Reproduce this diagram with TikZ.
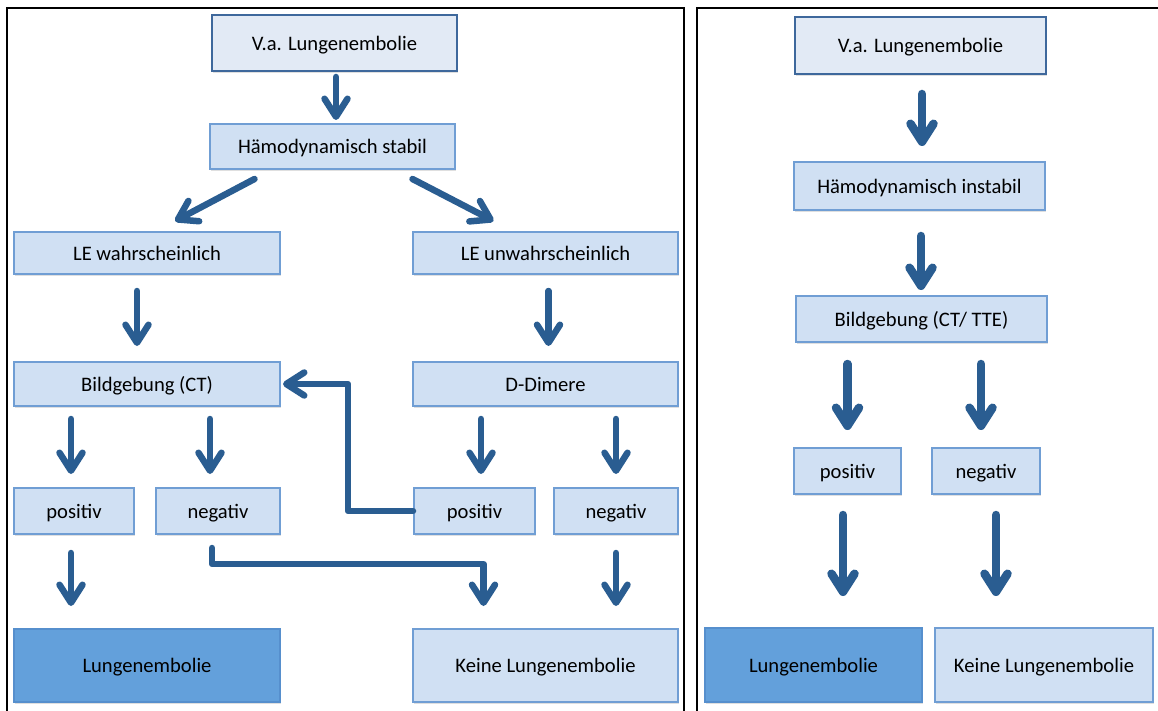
\documentclass[tikz,border=0pt]{standalone}
\usepackage{fontspec}
\setmainfont{Carlito}
\usetikzlibrary{arrows.meta,shadows}
\definecolor{boxfill}{RGB}{208,224,243}
\definecolor{boxline}{RGB}{112,158,212}
\definecolor{topfill}{RGB}{226,234,245}
\definecolor{topline}{RGB}{62,104,156}
\definecolor{lefill}{RGB}{99,160,219}
\definecolor{leline}{RGB}{86,143,205}
\definecolor{arrowblue}{RGB}{42,93,145}
\tikzstyle{box}=[draw=boxline,line width=2pt,fill=boxfill,inner sep=0pt,
  font=\fontsize{20.6}{24}\selectfont,text depth=0pt,
  drop shadow={shadow xshift=1pt,shadow yshift=-2pt,opacity=0.25}]
\tikzstyle{topbox}=[box,fill=topfill,draw=topline]
\tikzstyle{lebox}=[box,fill=lefill,draw=leline]
\tikzstyle{flow}=[draw=arrowblue,line width=6.5pt,line cap=round,line join=round,
  -{Straight Barb[length=18pt,width=23pt,round]}]
\tikzstyle{flowbig}=[flow,line width=8.5pt]
\tikzstyle{frame}=[draw=black,line width=2pt]

\begin{document}
\begin{tikzpicture}[x=1pt,y=-1pt]
\useasboundingbox (0,0) rectangle (1158,711);
\draw[frame] (7,711) |- (684,8) -- (684,711);
\draw[frame] (697,711) |- (1158,8);

% stabil
\node[topbox,minimum width=245pt,minimum height=56pt] (va1) at (334.5,43) {V.a. Lungenembolie};
\node[box,minimum width=245pt,minimum height=45pt] (stabil) at (332.5,146.5) {Hämodynamisch stabil};
\node[box,minimum width=266pt,minimum height=42pt] (lew) at (147,253) {LE wahrscheinlich};
\node[box,minimum width=265pt,minimum height=42pt] (leu) at (545.5,253) {LE unwahrscheinlich};
\node[box,minimum width=266pt,minimum height=44pt] (ct1) at (147,384) {Bildgebung (CT)};
\node[box,minimum width=265pt,minimum height=44pt] (dd) at (545.5,384) {D-Dimere};
\node[box,minimum width=120pt,minimum height=46pt] (pos1) at (74,511) {positiv};
\node[box,minimum width=124pt,minimum height=46pt] (neg1) at (218,511) {negativ};
\node[box,minimum width=121pt,minimum height=46pt] (pos2) at (474.5,511) {positiv};
\node[box,minimum width=124pt,minimum height=46pt] (neg2) at (616,511) {negativ};
\node[lebox,minimum width=266pt,minimum height=73pt] (le1) at (147,665.5) {Lungenembolie};
\node[box,minimum width=265pt,minimum height=73pt] (kle1) at (545.5,665.5) {Keine Lungenembolie};

\draw[flow,shorten <=5pt,shorten >=3pt] ([xshift=1.5pt]va1.south) -- ([xshift=3.5pt]stabil.north);
\draw[flow] ([shift={(-78,9)}]stabil.south) -- ([shift={(28,-10)}]lew.north);
\draw[flow] ([shift={(80,9)}]stabil.south) -- ([shift={(-52,-10)}]leu.north);
\draw[flow,shorten <=16pt,shorten >=15pt] ([xshift=-10pt]lew.south) -- ([xshift=-10pt]ct1.north);
\draw[flow,shorten <=16pt,shorten >=15pt] ([xshift=3pt]leu.south) -- ([xshift=3pt]dd.north);
\draw[flow,shorten <=12pt,shorten >=13pt] ([xshift=-3pt]ct1.south -| pos1.north) -- ([xshift=-3pt]pos1.north);
\draw[flow,shorten <=12pt,shorten >=13pt] ([xshift=-8pt]ct1.south -| neg1.north) -- ([xshift=-8pt]neg1.north);
\draw[flow,shorten <=12pt,shorten >=13pt] ([xshift=6.5pt]dd.south -| pos2.north) -- ([xshift=6.5pt]pos2.north);
\draw[flow,shorten <=12pt,shorten >=13pt] (dd.south -| neg2.north) -- (neg2.north);
\draw[flow,shorten <=18pt,shorten >=22pt] ([xshift=-3pt]pos1.south) -- ([xshift=-3pt]pos1.south |- le1.north);
\draw[flow,shorten <=18pt,shorten >=22pt] (neg2.south) -- (neg2.south |- kle1.north);
\draw[flow,shorten >=2pt] (pos2.west) -| ([xshift=67pt]ct1.east) -- (ct1.east);
\draw[flow] ([shift={(-6,13)}]neg1.south) |- ([shift={(-62,-64)}]kle1.north) -- ([shift={(-62,-22)}]kle1.north);

% instabil
\node[topbox,minimum width=251pt,minimum height=57pt] (va2) at (920.5,45.5) {V.a. Lungenembolie};
\node[box,minimum width=251pt,minimum height=48pt] (instabil) at (919.5,186) {Hämodynamisch instabil};
\node[box,minimum width=251pt,minimum height=46pt] (ct2) at (921.5,319) {Bildgebung (CT/ TTE)};
\node[box,minimum width=107pt,minimum height=46pt] (pos3) at (847.5,471) {positiv};
\node[box,minimum width=108pt,minimum height=46pt] (neg3) at (986,471) {negativ};
\node[lebox,minimum width=217pt,minimum height=74pt] (le2) at (813.5,665) {Lungenembolie};
\node[box,minimum width=218pt,minimum height=74pt] (kle2) at (1044,665) {Keine Lungenembolie};

\draw[flowbig,shorten <=19pt,shorten >=15pt] ([xshift=1.5pt]va2.south) -- ([xshift=2.5pt]instabil.north);
\draw[flowbig,shorten <=25pt,shorten >=5pt] ([xshift=1.5pt]instabil.south) -- ([xshift=-0.5pt]ct2.north);
\draw[flowbig,shorten <=21pt,shorten >=17pt] (ct2.south -| pos3.north) -- (pos3.north);
\draw[flowbig,shorten <=21pt,shorten >=17pt] ([xshift=-5pt]ct2.south -| neg3.north) -- ([xshift=-5pt]neg3.north);
\draw[flowbig,shorten <=20pt,shorten >=31pt] ([xshift=-4.5pt]pos3.south) -- ([xshift=-4.5pt]pos3.south |- le2.north);
\draw[flowbig,shorten <=20pt,shorten >=31pt] ([xshift=10pt]neg3.south) -- ([xshift=10pt]neg3.south |- kle2.north);
\end{tikzpicture}
\end{document}
